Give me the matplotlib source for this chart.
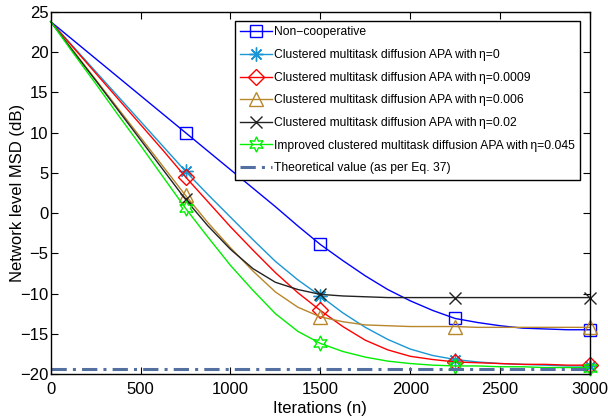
import matplotlib
matplotlib.use('Agg')
import matplotlib.pyplot as plt

plt.rcParams['font.family'] = ['Liberation Sans', 'DejaVu Sans']

# iterations sampled every 125
n = list(range(0, 3001, 125))

non_coop = [23.8, 21.5, 19.2, 16.9, 14.6, 12.3, 10.0, 7.7, 5.4, 3.1, 0.8, -1.6, -3.9,
            -5.9, -7.8, -9.5, -10.9, -12.1, -13.1, -13.6, -14.0, -14.3, -14.4, -14.5, -14.5]
eta_0 = [23.8, 20.7, 17.6, 14.5, 11.4, 8.3, 5.2, 2.3, -0.5, -3.3, -6.0, -8.3, -10.3,
         -12.4, -14.2, -15.7, -16.9, -17.7, -18.2, -18.5, -18.7, -18.8, -18.9, -19.0, -19.0]
eta_0009 = [23.8, 20.6, 17.4, 14.2, 11.0, 7.8, 4.5, 1.4, -1.7, -4.6, -7.4, -9.9, -12.1,
            -14.1, -15.8, -17.0, -17.8, -18.2, -18.5, -18.6, -18.7, -18.8, -18.8, -18.9, -18.9]
eta_006 = [23.8, 20.2, 16.6, 13.0, 9.4, 5.8, 2.2, -1.2, -4.3, -7.2, -9.8, -11.7, -12.9,
           -13.5, -13.9, -14.0, -14.1, -14.1, -14.1, -14.2, -14.2, -14.2, -14.2, -14.2, -14.2]
eta_02 = [23.8, 20.1, 16.5, 12.8, 9.1, 5.4, 1.7, -1.6, -4.5, -6.9, -8.6, -9.5, -10.1,
          -10.3, -10.4, -10.5, -10.5, -10.5, -10.5, -10.5, -10.5, -10.5, -10.5, -10.5, -10.5]
improved = [23.8, 19.9, 16.1, 12.2, 8.4, 4.5, 0.6, -3.0, -6.5, -9.6, -12.5, -14.7, -16.2,
            -17.2, -17.9, -18.4, -18.7, -18.9, -19.0, -19.0, -19.1, -19.1, -19.2, -19.2, -19.2]
theory = -19.4

series = [
    (non_coop, 'Non\u2212cooperative', '#0000ff', 's', 9),
    (eta_0, 'Clustered multitask diffusion APA with\u2009\u03b7=0', '#1a96d4', (8, 2, 0), 10),
    (eta_0009, 'Clustered multitask diffusion APA with\u2009\u03b7=0.0009', '#ff0000', 'D', 8),
    (eta_006, 'Clustered multitask diffusion APA with\u2009\u03b7=0.006', '#b8862b', '^', 10),
    (eta_02, 'Clustered multitask diffusion APA with\u2009\u03b7=0.02', '#222222', 'x', 9),
    (improved, 'Improved clustered multitask diffusion APA with\u2009\u03b7=0.045', '#00ee00', (6, 1, 0), 11),
]

fig = plt.figure(figsize=(6.08, 4.2), dpi=100)
ax = fig.add_axes([50.7 / 608, 1 - 374 / 420, 539.3 / 608, 362 / 420])

for vals, lab, col, mk, ms in series:
    ax.plot(n, vals, color=col, lw=1.0, marker=mk, markersize=ms, markevery=[6, 12, 18, 24],
            markerfacecolor='none', markeredgecolor=col, markeredgewidth=1.0,
            label=lab, clip_on=False)

ax.plot([0, 3000], [theory, theory], color='#5470a0', lw=2.2, ls=(0, (5, 2, 1, 2)),
        label='Theoretical value (as per Eq. 37)')

ax.set_xlim(0, 3000)
ax.set_ylim(-20, 25)
ax.set_xticks(range(0, 3001, 500))
ax.set_yticks(range(-20, 26, 5))
ax.tick_params(direction='in', top=True, right=True, labelsize=12, length=5)
ax.tick_params(axis='x', pad=6)
ax.tick_params(axis='y', pad=1.5)
ax.set_xlabel('Iterations (n)', fontsize=12)
ax.set_ylabel('Network level MSD (dB)', fontsize=12)
ax.xaxis.set_label_coords(0.5, -0.075)
ax.yaxis.set_label_coords(-0.048, 0.5)
for s in ax.spines.values():
    s.set_linewidth(1.0)

leg = ax.legend(loc='upper right', bbox_to_anchor=(0.9815, 0.975), fontsize=8.7,
                handlelength=2.6, handletextpad=0.15, labelspacing=0.88, borderpad=0.45,
                borderaxespad=0, fancybox=False, framealpha=1, edgecolor='black')
leg.get_frame().set_linewidth(1.0)

fig.savefig('out.png', dpi=100)
